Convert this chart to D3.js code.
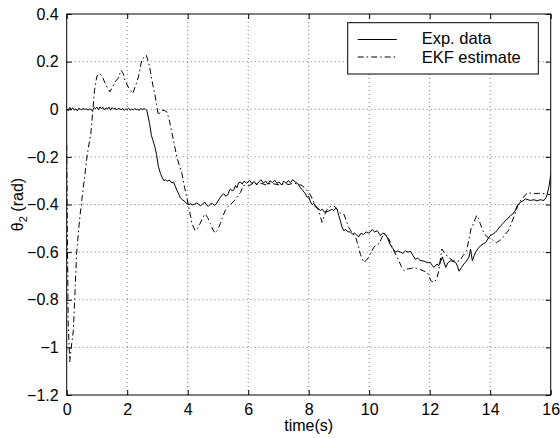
<!DOCTYPE html>
<html><head><meta charset="utf-8">
<script src="https://cdn.jsdelivr.net/npm/d3@7"></script>
<style>body{margin:0;background:#fff}svg{display:block}text{font-family:"Liberation Sans",Arial,sans-serif;fill:#000}</style>
</head><body><svg id="c" width="560" height="438"></svg>
<script>
const xTicks=[0,2,4,6,8,10,12,14,16];
const yTicks=[0.4,0.2,0,-0.2,-0.4,-0.6,-0.8,-1,-1.2];
const seriesNames=["Exp. data","EKF estimate"];
const expTime=[0,0.05,0.1,0.15,0.2,0.25,0.3,0.35,0.4,0.45,0.5,0.55,0.6,0.65,0.7,0.75,0.8,0.85,0.9,0.95,1,1.05,1.1,1.15,1.2,1.25,1.3,1.35,1.4,1.45,1.5,1.55,1.6,1.65,1.7,1.75,1.8,1.85,1.9,1.95,2,2.05,2.1,2.15,2.2,2.25,2.3,2.35,2.4,2.45,2.5,2.55,2.6,
2.65,2.74,2.8,2.85,2.92,2.97,3.03,3.1,3.15,3.21,3.26,3.32,3.38,3.42,3.48,3.53,3.58,3.64,3.7,3.75,3.82,3.88,3.92,3.98,4.03,4.1,4.17,4.24,4.3,4.37,4.43,4.5,4.56,4.62,4.68,4.75,4.82,4.88,4.95,5,5.08,5.14,5.19,5.25,5.32,5.37,5.41,5.47,5.52,5.58,5.63,5.68,5.74,5.8,5.86,
5.95,6.05,6.12,6.2,6.28,6.35,6.42,6.5,6.58,6.65,6.72,6.8,6.88,6.95,7.02,7.1,7.18,7.25,7.32,7.4,7.47,7.55,7.62,7.68,7.73,7.8,7.89,7.95,8,8.06,8.12,8.17,8.22,8.3,8.39,8.45,8.52,8.61,8.7,8.78,8.83,8.9,8.94,8.99,9.05,9.1,9.16,9.22,9.3,9.38,9.45,9.52,9.6,9.66,9.72,9.82,9.9,9.97,10.04,10.1,10.18,10.26,10.32,10.37,10.45,10.54,10.6,10.65,10.7,10.78,10.87,10.95,11.04,11.12,11.2,11.28,11.37,11.45,11.53,11.6,11.68,11.75,11.85,11.95,12.02,12.08,12.14,12.2,12.25,12.3,12.36,12.42,12.48,12.53,12.6,12.7,12.78,12.86,12.92,12.97,13.05,13.13,13.2,13.3,13.35,13.41,13.47,13.52,13.6,13.68,13.77,13.85,13.92,14,14.08,14.17,14.25,14.34,14.42,14.5,14.58,14.67,14.75,14.83,14.9,14.95,15,15.08,15.17,15.25,15.33,15.45,15.55,15.65,15.78,15.85,15.89,15.95,16];
const expTheta=[0.003,-0.006,0.008,-0.002,0.006,-0.004,0.002,-0.007,0.004,0,-0.003,0.005,-0.002,0.003,-0.004,0.001,-0.001,-0.006,0.007,0.003,0.009,-0.002,0.01,0.002,0.008,-0.003,0.006,0.001,0.009,-0.004,0.007,0,0.005,-0.003,0.004,0.002,-0.002,0.003,-0.005,0.002,-0.001,0.004,-0.004,0.001,-0.003,0.003,-0.002,0,-0.005,0.004,-0.002,0.002,0,
-0.005,-0.06,-0.11,-0.13,-0.16,-0.19,-0.24,-0.27,-0.285,-0.3,-0.296,-0.302,-0.298,-0.3,-0.31,-0.305,-0.32,-0.34,-0.355,-0.37,-0.38,-0.385,-0.39,-0.397,-0.4,-0.397,-0.402,-0.398,-0.394,-0.4,-0.405,-0.397,-0.39,-0.402,-0.408,-0.398,-0.396,-0.404,-0.397,-0.385,-0.37,-0.36,-0.355,-0.365,-0.36,-0.345,-0.335,-0.342,-0.34,-0.32,-0.33,-0.31,-0.305,-0.315,-0.302,
-0.31,-0.298,-0.312,-0.303,-0.318,-0.305,-0.296,-0.31,-0.302,-0.315,-0.3,-0.308,-0.298,-0.312,-0.305,-0.318,-0.302,-0.311,-0.3,-0.308,-0.296,-0.305,-0.31,-0.32,-0.33,-0.34,-0.355,-0.37,-0.365,-0.39,-0.4,-0.395,-0.41,-0.415,-0.425,-0.42,-0.432,-0.43,-0.425,-0.42,-0.425,-0.415,-0.42,-0.445,-0.47,-0.495,-0.51,-0.505,-0.515,-0.515,-0.525,-0.52,-0.53,-0.535,-0.522,-0.525,-0.515,-0.52,-0.515,-0.505,-0.515,-0.51,-0.52,-0.53,-0.52,-0.525,-0.54,-0.555,-0.57,-0.585,-0.6,-0.595,-0.6,-0.605,-0.595,-0.6,-0.597,-0.615,-0.63,-0.625,-0.635,-0.636,-0.64,-0.645,-0.643,-0.655,-0.664,-0.655,-0.65,-0.657,-0.64,-0.62,-0.645,-0.664,-0.645,-0.636,-0.64,-0.643,-0.66,-0.68,-0.665,-0.65,-0.64,-0.62,-0.587,-0.636,-0.615,-0.6,-0.585,-0.573,-0.565,-0.56,-0.545,-0.53,-0.525,-0.517,-0.505,-0.49,-0.48,-0.468,-0.46,-0.446,-0.44,-0.425,-0.404,-0.398,-0.39,-0.385,-0.376,-0.38,-0.383,-0.38,-0.385,-0.38,-0.383,-0.37,-0.355,-0.32,-0.275];
const ekfTime=[0,0.02,0.05,0.1,0.15,0.22,0.33,0.42,0.5,0.68,0.8,0.92,1,1.1,1.2,1.3,1.43,1.52,1.6,1.7,1.8,1.87,1.93,2.05,2.18,2.28,2.37,2.48,2.56,2.63,2.7,2.76,2.85,2.92,2.97,3.03,3.1,3.15,3.23,3.31,3.4,3.48,3.56,3.64,3.72,3.81,3.9,3.97,4.05,4.14,4.25,4.33,4.41,4.5,4.58,4.66,4.75,4.83,4.91,5,5.08,5.16,5.24,5.32,5.41,5.5,5.63,5.74,5.85,5.95,6.05,6.17,6.3,6.45,6.6,6.75,6.9,7.05,7.2,7.35,7.5,7.65,7.78,7.9,8.06,8.2,8.33,8.44,8.52,8.61,8.75,8.88,8.99,9.08,9.16,9.25,9.32,9.45,9.55,9.63,9.71,9.82,9.9,9.99,10.07,10.15,10.25,10.32,10.4,10.48,10.57,10.65,10.73,10.81,10.9,10.98,11.06,11.15,11.23,11.31,11.4,11.48,11.56,11.64,11.78,11.92,11.98,12.03,12.14,12.23,12.3,12.4,12.5,12.6,12.7,12.78,12.9,13,13.1,13.22,13.3,13.37,13.45,13.55,13.62,13.67,13.76,13.85,13.95,14.05,14.13,14.21,14.3,14.38,14.5,14.6,14.71,14.82,14.93,15.02,15.1,15.18,15.26,15.42,15.6,15.8,15.9,16];
const ekfTheta=[-0.15,-0.5,-0.9,-1.06,-1,-0.93,-0.6,-0.47,-0.38,-0.19,-0.1,0.08,0.14,0.15,0.13,0.1,0.073,0.095,0.115,0.13,0.164,0.15,0.12,0.09,0.066,0.1,0.136,0.206,0.22,0.227,0.2,0.164,0.1,0.06,0.02,-0.025,-0.01,-0.004,-0.005,-0.011,-0.05,-0.1,-0.15,-0.2,-0.235,-0.27,-0.33,-0.37,-0.42,-0.48,-0.51,-0.5,-0.48,-0.455,-0.44,-0.455,-0.48,-0.505,-0.52,-0.505,-0.48,-0.45,-0.425,-0.41,-0.4,-0.39,-0.37,-0.35,-0.32,-0.318,-0.32,-0.31,-0.315,-0.312,-0.318,-0.31,-0.315,-0.318,-0.312,-0.316,-0.31,-0.315,-0.32,-0.335,-0.36,-0.4,-0.425,-0.475,-0.445,-0.42,-0.405,-0.41,-0.43,-0.44,-0.44,-0.47,-0.496,-0.52,-0.537,-0.57,-0.61,-0.643,-0.635,-0.62,-0.6,-0.58,-0.566,-0.566,-0.545,-0.523,-0.535,-0.545,-0.57,-0.594,-0.615,-0.636,-0.66,-0.678,-0.672,-0.67,-0.668,-0.664,-0.668,-0.67,-0.678,-0.685,-0.7,-0.72,-0.727,-0.713,-0.68,-0.587,-0.605,-0.62,-0.63,-0.636,-0.638,-0.636,-0.615,-0.594,-0.545,-0.5,-0.48,-0.446,-0.46,-0.48,-0.51,-0.53,-0.54,-0.545,-0.555,-0.56,-0.552,-0.545,-0.525,-0.51,-0.475,-0.44,-0.397,-0.38,-0.37,-0.357,-0.35,-0.355,-0.353,-0.355,-0.357,-0.358];

const svg=d3.select("#c");
const L=66.7,R=550.7,T=14,B=395;
const x=d3.scaleLinear().domain([0,16]).range([L,R]);
const y=d3.scaleLinear().domain([-1.2,0.4]).range([B,T]);
const fmt=v=>{const s=(Math.round(v*10)/10).toString();return s.replace("-","\u2212");};

// grid
const g=svg.append("g");
g.selectAll(".gx").data(xTicks.slice(1,-1)).join("line").attr("x1",d=>x(d)).attr("x2",d=>x(d)).attr("y1",T).attr("y2",B)
 .attr("stroke","#555").attr("stroke-width",0.8).attr("stroke-dasharray","1,3");
g.selectAll(".gy").data(yTicks.slice(1,-1)).join("line").attr("y1",d=>y(d)).attr("y2",d=>y(d)).attr("x1",L).attr("x2",R)
 .attr("stroke","#555").attr("stroke-width",0.8).attr("stroke-dasharray","1,3");

// lines
svg.append("clipPath").attr("id","cp").append("rect").attr("x",L).attr("y",T).attr("width",R-L).attr("height",B-T);
const line=d3.line().x(d=>x(d[0])).y(d=>y(d[1]));
const expData=expTime.map((t,i)=>[t,expTheta[i]]);
const ekfData=ekfTime.map((t,i)=>[t,ekfTheta[i]]);
svg.append("path").attr("clip-path","url(#cp)").attr("d",line(ekfData)).attr("fill","none").attr("stroke","#000").attr("stroke-width",1).attr("stroke-dasharray","6,3,1.5,3");
svg.append("path").attr("clip-path","url(#cp)").attr("d",line(expData)).attr("fill","none").attr("stroke","#000").attr("stroke-width",1);

// axes with inner ticks
const ax=svg.append("g");
ax.append("g").attr("transform",`translate(0,${B})`).call(d3.axisBottom(x).tickValues(xTicks).tickSize(-5).tickPadding(10).tickFormat(d=>d))
  .call(s=>{s.select(".domain").remove();s.selectAll("text").attr("font-size",16).attr("dy","0.6em");});
ax.append("g").attr("transform",`translate(0,${T})`).call(d3.axisTop(x).tickValues(xTicks).tickSize(-5).tickFormat(""))
  .call(s=>s.select(".domain").remove());
ax.append("g").attr("transform",`translate(${L},0)`).call(d3.axisLeft(y).tickValues(yTicks).tickSize(-5).tickPadding(8).tickFormat(fmt))
  .call(s=>{s.select(".domain").remove();s.selectAll("text").attr("font-size",16);});
ax.append("g").attr("transform",`translate(${R},0)`).call(d3.axisRight(y).tickValues(yTicks).tickSize(-5).tickFormat(""))
  .call(s=>s.select(".domain").remove());
ax.selectAll(".tick line").attr("stroke","#000");
ax.selectAll("text").attr("font-family","Liberation Sans, Arial, sans-serif");
svg.append("rect").attr("x",L).attr("y",T).attr("width",R-L).attr("height",B-T).attr("fill","none").attr("stroke","#000").attr("stroke-width",1);

// labels
svg.append("text").attr("x",(L+R)/2).attr("y",431).attr("text-anchor","middle").attr("font-size",16).text("time(s)");
const yl=svg.append("text").attr("transform",`translate(23,${(T+B)/2}) rotate(-90)`).attr("text-anchor","middle").attr("font-size",16);
yl.append("tspan").text("\u03b8");
yl.append("tspan").attr("font-size",11).attr("dy",4).text("2");
yl.append("tspan").attr("dy",-4).text(" (rad)");

// legend
const lg=svg.append("g");
lg.append("rect").attr("x",347.7).attr("y",22.7).attr("width",190.6).attr("height",51.3).attr("fill","#fff").attr("stroke","#000").attr("stroke-width",1);
const dashes=[null,"6,3,1.5,3"];
seriesNames.forEach((n,i)=>{
  const yy=39.5+i*17.5;
  const l=lg.append("line").attr("x1",357.7).attr("x2",396.7).attr("y1",yy).attr("y2",yy).attr("stroke","#000").attr("stroke-width",1);
  if(dashes[i]) l.attr("stroke-dasharray",dashes[i]);
  lg.append("text").attr("x",421.7).attr("y",44+i*19).attr("font-size",16.5).text(n);
});
</script></body></html>
